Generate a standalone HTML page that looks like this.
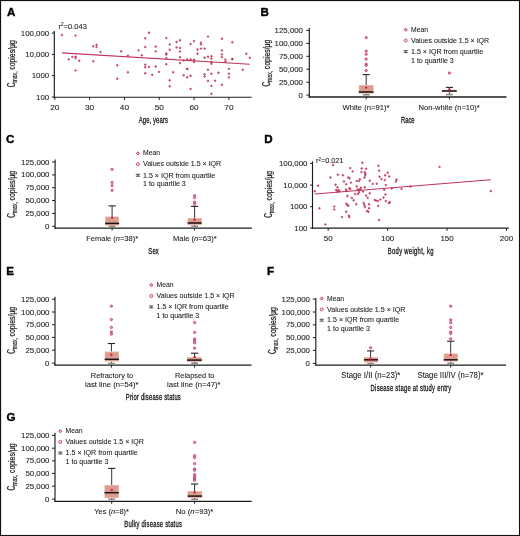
<!DOCTYPE html>
<html><head><meta charset="utf-8"><style>
html,body{margin:0;padding:0;background:#fff;width:520px;height:536px;overflow:hidden}
svg{display:block;font-family:"Liberation Sans", sans-serif;will-change:transform}
text{stroke:#1a1a1a;stroke-width:0.08px;paint-order:stroke}
.t{stroke:#111;stroke-width:0.3px}
.pl{stroke:#000;stroke-width:0.4px}
.yl text{stroke-width:0.22px}
</style></head><body>
<svg width="520" height="536" viewBox="0 0 520 536">
<rect x="0.55" y="0.55" width="518.95" height="534.95" fill="#fff" stroke="#111" stroke-width="1.1"/>
<text class="pl" x="7.0" y="16.0" font-size="11.6" font-weight="bold" fill="#000">A</text>
<text class="pl" x="260.4" y="16.0" font-size="11.6" font-weight="bold" fill="#000">B</text>
<text class="pl" x="6.1" y="143.3" font-size="11.6" font-weight="bold" fill="#000">C</text>
<text class="pl" x="264.2" y="143.0" font-size="11.6" font-weight="bold" fill="#000">D</text>
<text class="pl" x="6.2" y="275.0" font-size="11.6" font-weight="bold" fill="#000">E</text>
<text class="pl" x="267.1" y="275.0" font-size="11.6" font-weight="bold" fill="#000">F</text>
<text class="pl" x="6.5" y="420.8" font-size="11.6" font-weight="bold" fill="#000">G</text>
<line x1="54.3" y1="31.1" x2="54.3" y2="97.8" stroke="#1c1c1c" stroke-width="1.15"/>
<line x1="53.699999999999996" y1="97.2" x2="251.7" y2="97.2" stroke="#1c1c1c" stroke-width="1.15"/>
<line x1="51.9" y1="33.1" x2="54.3" y2="33.1" stroke="#1c1c1c" stroke-width="1.0"/>
<line x1="51.9" y1="54.4" x2="54.3" y2="54.4" stroke="#1c1c1c" stroke-width="1.0"/>
<line x1="51.9" y1="75.6" x2="54.3" y2="75.6" stroke="#1c1c1c" stroke-width="1.0"/>
<line x1="51.9" y1="97.1" x2="54.3" y2="97.1" stroke="#1c1c1c" stroke-width="1.0"/>
<line x1="54.8" y1="97.2" x2="54.8" y2="99.9" stroke="#1c1c1c" stroke-width="1.0"/>
<line x1="89.62" y1="97.2" x2="89.62" y2="99.9" stroke="#1c1c1c" stroke-width="1.0"/>
<line x1="124.44" y1="97.2" x2="124.44" y2="99.9" stroke="#1c1c1c" stroke-width="1.0"/>
<line x1="159.26" y1="97.2" x2="159.26" y2="99.9" stroke="#1c1c1c" stroke-width="1.0"/>
<line x1="194.07999999999998" y1="97.2" x2="194.07999999999998" y2="99.9" stroke="#1c1c1c" stroke-width="1.0"/>
<line x1="228.89999999999998" y1="97.2" x2="228.89999999999998" y2="99.9" stroke="#1c1c1c" stroke-width="1.0"/>
<text x="49.2" y="35.6" font-size="7.2" text-anchor="end" font-weight="normal" fill="#1a1a1a" textLength="28.42" lengthAdjust="spacingAndGlyphs" >100,000</text>
<text x="49.2" y="56.9" font-size="7.2" text-anchor="end" font-weight="normal" fill="#1a1a1a" textLength="24.05" lengthAdjust="spacingAndGlyphs" >10,000</text>
<text x="49.2" y="78.1" font-size="7.2" text-anchor="end" font-weight="normal" fill="#1a1a1a" textLength="17.49" lengthAdjust="spacingAndGlyphs" >1000</text>
<text x="49.2" y="99.6" font-size="7.2" text-anchor="end" font-weight="normal" fill="#1a1a1a" textLength="13.12" lengthAdjust="spacingAndGlyphs" >100</text>
<text x="54.8" y="109.5" font-size="7.9" text-anchor="middle" font-weight="normal" fill="#1a1a1a" textLength="9.23" lengthAdjust="spacingAndGlyphs" >20</text>
<text x="89.62" y="109.5" font-size="7.9" text-anchor="middle" font-weight="normal" fill="#1a1a1a" textLength="9.23" lengthAdjust="spacingAndGlyphs" >30</text>
<text x="124.44" y="109.5" font-size="7.9" text-anchor="middle" font-weight="normal" fill="#1a1a1a" textLength="9.23" lengthAdjust="spacingAndGlyphs" >40</text>
<text x="159.26" y="109.5" font-size="7.9" text-anchor="middle" font-weight="normal" fill="#1a1a1a" textLength="9.23" lengthAdjust="spacingAndGlyphs" >50</text>
<text x="194.07999999999998" y="109.5" font-size="7.9" text-anchor="middle" font-weight="normal" fill="#1a1a1a" textLength="9.23" lengthAdjust="spacingAndGlyphs" >60</text>
<text x="228.89999999999998" y="109.5" font-size="7.9" text-anchor="middle" font-weight="normal" fill="#1a1a1a" textLength="9.23" lengthAdjust="spacingAndGlyphs" >70</text>
<text class="t" transform="translate(138.7,122.5) scale(0.6,1)" x="0" y="0" font-size="9.8" letter-spacing="0.203" fill="#111">Age, years</text>
<text x="58.5" y="28.5" font-size="7.3" text-anchor="start" font-weight="normal" fill="#1a1a1a" textLength="28.4" lengthAdjust="spacingAndGlyphs" >r<tspan font-size="4.5" dy="-2.6">2</tspan><tspan dy="2.6">=0.043</tspan></text>
<g class="yl" transform="translate(14.9,87.2) rotate(-90)" fill="#1a1a1a"><text x="0" y="0" font-size="10.2" textLength="4.6" lengthAdjust="spacingAndGlyphs">C</text><text x="4.6" y="2.0" font-size="7.0" textLength="11.2" lengthAdjust="spacingAndGlyphs">max,</text><text x="17.4" y="0" font-size="8.7" textLength="29.6" lengthAdjust="spacingAndGlyphs">copies/μg</text></g>
<line x1="61.9" y1="52.9" x2="249.8" y2="64.3" stroke="#bf3459" stroke-width="1.1"/>
<path d="M60.449999999999996 35L61.9 33.55L63.35 35L61.9 36.45Z" fill="#bb2d55" fill-opacity="0.85"/>
<path d="M74.14999999999999 35.6L75.6 34.15L77.05 35.6L75.6 37.050000000000004Z" fill="#bb2d55" fill-opacity="0.85"/>
<path d="M91.85 46.2L93.3 44.75L94.75 46.2L93.3 47.650000000000006Z" fill="#bb2d55" fill-opacity="0.85"/>
<path d="M95.05 44.8L96.5 43.349999999999994L97.95 44.8L96.5 46.25Z" fill="#bb2d55" fill-opacity="0.85"/>
<path d="M95.05 47.1L96.5 45.65L97.95 47.1L96.5 48.550000000000004Z" fill="#bb2d55" fill-opacity="0.85"/>
<path d="M98.95 52.1L100.4 50.65L101.85000000000001 52.1L100.4 53.550000000000004Z" fill="#bb2d55" fill-opacity="0.85"/>
<path d="M67.25 59.4L68.7 57.949999999999996L70.15 59.4L68.7 60.85Z" fill="#bb2d55" fill-opacity="0.85"/>
<path d="M70.85 56.9L72.3 55.449999999999996L73.75 56.9L72.3 58.35Z" fill="#bb2d55" fill-opacity="0.85"/>
<path d="M74.14999999999999 56.7L75.6 55.25L77.05 56.7L75.6 58.150000000000006Z" fill="#bb2d55" fill-opacity="0.85"/>
<path d="M74.14999999999999 58.1L75.6 56.65L77.05 58.1L75.6 59.550000000000004Z" fill="#bb2d55" fill-opacity="0.85"/>
<path d="M77.75 60.8L79.2 59.349999999999994L80.65 60.8L79.2 62.25Z" fill="#bb2d55" fill-opacity="0.85"/>
<path d="M91.85 61.3L93.3 59.849999999999994L94.75 61.3L93.3 62.75Z" fill="#bb2d55" fill-opacity="0.85"/>
<path d="M74.14999999999999 70.4L75.6 68.95L77.05 70.4L75.6 71.85000000000001Z" fill="#bb2d55" fill-opacity="0.85"/>
<path d="M115.85 65.2L117.3 63.75L118.75 65.2L117.3 66.65Z" fill="#bb2d55" fill-opacity="0.85"/>
<path d="M119.75 51.3L121.2 49.849999999999994L122.65 51.3L121.2 52.75Z" fill="#bb2d55" fill-opacity="0.85"/>
<path d="M126.45 55.8L127.9 54.349999999999994L129.35 55.8L127.9 57.25Z" fill="#bb2d55" fill-opacity="0.85"/>
<path d="M126.45 72.3L127.9 70.85L129.35 72.3L127.9 73.75Z" fill="#bb2d55" fill-opacity="0.85"/>
<path d="M115.85 78.7L117.3 77.25L118.75 78.7L117.3 80.15Z" fill="#bb2d55" fill-opacity="0.85"/>
<path d="M137.05 50.4L138.5 48.949999999999996L139.95 50.4L138.5 51.85Z" fill="#bb2d55" fill-opacity="0.85"/>
<path d="M140.45000000000002 55.2L141.9 53.75L143.35 55.2L141.9 56.650000000000006Z" fill="#bb2d55" fill-opacity="0.85"/>
<path d="M143.75 38.3L145.2 36.849999999999994L146.64999999999998 38.3L145.2 39.75Z" fill="#bb2d55" fill-opacity="0.85"/>
<path d="M143.75 47.1L145.2 45.65L146.64999999999998 47.1L145.2 48.550000000000004Z" fill="#bb2d55" fill-opacity="0.85"/>
<path d="M143.75 64.8L145.2 63.349999999999994L146.64999999999998 64.8L145.2 66.25Z" fill="#bb2d55" fill-opacity="0.85"/>
<path d="M143.75 67.3L145.2 65.85L146.64999999999998 67.3L145.2 68.75Z" fill="#bb2d55" fill-opacity="0.85"/>
<path d="M147.55 66.9L149 65.45L150.45 66.9L149 68.35000000000001Z" fill="#bb2d55" fill-opacity="0.85"/>
<path d="M143.75 73.3L145.2 71.85L146.64999999999998 73.3L145.2 74.75Z" fill="#bb2d55" fill-opacity="0.85"/>
<path d="M147.55 32.7L149 31.250000000000004L150.45 32.7L149 34.150000000000006Z" fill="#bb2d55" fill-opacity="0.85"/>
<path d="M150.75 74.7L152.2 73.25L153.64999999999998 74.7L152.2 76.15Z" fill="#bb2d55" fill-opacity="0.85"/>
<path d="M154.25 46.5L155.7 45.05L157.14999999999998 46.5L155.7 47.95Z" fill="#bb2d55" fill-opacity="0.85"/>
<path d="M154.25 51.4L155.7 49.949999999999996L157.14999999999998 51.4L155.7 52.85Z" fill="#bb2d55" fill-opacity="0.85"/>
<path d="M154.25 66.5L155.7 65.05L157.14999999999998 66.5L155.7 67.95Z" fill="#bb2d55" fill-opacity="0.85"/>
<path d="M157.65 71.9L159.1 70.45L160.54999999999998 71.9L159.1 73.35000000000001Z" fill="#bb2d55" fill-opacity="0.85"/>
<path d="M164.85000000000002 38.1L166.3 36.65L167.75 38.1L166.3 39.550000000000004Z" fill="#bb2d55" fill-opacity="0.85"/>
<path d="M164.85000000000002 53.4L166.3 51.949999999999996L167.75 53.4L166.3 54.85Z" fill="#bb2d55" fill-opacity="0.85"/>
<path d="M164.85000000000002 54.6L166.3 53.15L167.75 54.6L166.3 56.050000000000004Z" fill="#bb2d55" fill-opacity="0.85"/>
<path d="M164.85000000000002 58.1L166.3 56.65L167.75 58.1L166.3 59.550000000000004Z" fill="#bb2d55" fill-opacity="0.85"/>
<path d="M164.85000000000002 64.3L166.3 62.849999999999994L167.75 64.3L166.3 65.75Z" fill="#bb2d55" fill-opacity="0.85"/>
<path d="M168.25 44.4L169.7 42.949999999999996L171.14999999999998 44.4L169.7 45.85Z" fill="#bb2d55" fill-opacity="0.85"/>
<path d="M168.25 49.8L169.7 48.349999999999994L171.14999999999998 49.8L169.7 51.25Z" fill="#bb2d55" fill-opacity="0.85"/>
<path d="M168.25 80.2L169.7 78.75L171.14999999999998 80.2L169.7 81.65Z" fill="#bb2d55" fill-opacity="0.85"/>
<path d="M168.25 86.2L169.7 84.75L171.14999999999998 86.2L169.7 87.65Z" fill="#bb2d55" fill-opacity="0.85"/>
<path d="M171.65 72.2L173.1 70.75L174.54999999999998 72.2L173.1 73.65Z" fill="#bb2d55" fill-opacity="0.85"/>
<path d="M175.15 42L176.6 40.55L178.04999999999998 42L176.6 43.45Z" fill="#bb2d55" fill-opacity="0.85"/>
<path d="M175.15 47.4L176.6 45.949999999999996L178.04999999999998 47.4L176.6 48.85Z" fill="#bb2d55" fill-opacity="0.85"/>
<path d="M178.55 40.2L180 38.75L181.45 40.2L180 41.650000000000006Z" fill="#bb2d55" fill-opacity="0.85"/>
<path d="M178.55 48L180 46.55L181.45 48L180 49.45Z" fill="#bb2d55" fill-opacity="0.85"/>
<path d="M178.55 51.4L180 49.949999999999996L181.45 51.4L180 52.85Z" fill="#bb2d55" fill-opacity="0.85"/>
<path d="M178.55 57.2L180 55.75L181.45 57.2L180 58.650000000000006Z" fill="#bb2d55" fill-opacity="0.85"/>
<path d="M178.55 63L180 61.55L181.45 63L180 64.45Z" fill="#bb2d55" fill-opacity="0.85"/>
<path d="M182.15 60.4L183.6 58.949999999999996L185.04999999999998 60.4L183.6 61.85Z" fill="#bb2d55" fill-opacity="0.85"/>
<path d="M182.15 75.3L183.6 73.85L185.04999999999998 75.3L183.6 76.75Z" fill="#bb2d55" fill-opacity="0.85"/>
<path d="M185.75 59.5L187.2 58.05L188.64999999999998 59.5L187.2 60.95Z" fill="#bb2d55" fill-opacity="0.85"/>
<path d="M185.75 77.2L187.2 75.75L188.64999999999998 77.2L187.2 78.65Z" fill="#bb2d55" fill-opacity="0.85"/>
<path d="M189.15 44.1L190.6 42.65L192.04999999999998 44.1L190.6 45.550000000000004Z" fill="#bb2d55" fill-opacity="0.85"/>
<path d="M189.15 59.5L190.6 58.05L192.04999999999998 59.5L190.6 60.95Z" fill="#bb2d55" fill-opacity="0.85"/>
<path d="M189.15 75.7L190.6 74.25L192.04999999999998 75.7L190.6 77.15Z" fill="#bb2d55" fill-opacity="0.85"/>
<path d="M189.15 88.9L190.6 87.45L192.04999999999998 88.9L190.6 90.35000000000001Z" fill="#bb2d55" fill-opacity="0.85"/>
<path d="M192.55 41.1L194 39.65L195.45 41.1L194 42.550000000000004Z" fill="#bb2d55" fill-opacity="0.85"/>
<path d="M192.55 59.8L194 58.349999999999994L195.45 59.8L194 61.25Z" fill="#bb2d55" fill-opacity="0.85"/>
<path d="M192.55 62L194 60.55L195.45 62L194 63.45Z" fill="#bb2d55" fill-opacity="0.85"/>
<path d="M196.05 49.5L197.5 48.05L198.95 49.5L197.5 50.95Z" fill="#bb2d55" fill-opacity="0.85"/>
<path d="M196.05 53.8L197.5 52.349999999999994L198.95 53.8L197.5 55.25Z" fill="#bb2d55" fill-opacity="0.85"/>
<path d="M199.55 42.6L201 41.15L202.45 42.6L201 44.050000000000004Z" fill="#bb2d55" fill-opacity="0.85"/>
<path d="M199.55 44.4L201 42.949999999999996L202.45 44.4L201 45.85Z" fill="#bb2d55" fill-opacity="0.85"/>
<path d="M199.55 48.6L201 47.15L202.45 48.6L201 50.050000000000004Z" fill="#bb2d55" fill-opacity="0.85"/>
<path d="M203.15 48.6L204.6 47.15L206.04999999999998 48.6L204.6 50.050000000000004Z" fill="#bb2d55" fill-opacity="0.85"/>
<path d="M203.15 57.8L204.6 56.349999999999994L206.04999999999998 57.8L204.6 59.25Z" fill="#bb2d55" fill-opacity="0.85"/>
<path d="M203.15 74.3L204.6 72.85L206.04999999999998 74.3L204.6 75.75Z" fill="#bb2d55" fill-opacity="0.85"/>
<path d="M203.15 76.5L204.6 75.05L206.04999999999998 76.5L204.6 77.95Z" fill="#bb2d55" fill-opacity="0.85"/>
<path d="M206.55 36.6L208 35.15L209.45 36.6L208 38.050000000000004Z" fill="#bb2d55" fill-opacity="0.85"/>
<path d="M206.55 56.8L208 55.349999999999994L209.45 56.8L208 58.25Z" fill="#bb2d55" fill-opacity="0.85"/>
<path d="M206.55 69.8L208 68.35L209.45 69.8L208 71.25Z" fill="#bb2d55" fill-opacity="0.85"/>
<path d="M206.55 81L208 79.55L209.45 81L208 82.45Z" fill="#bb2d55" fill-opacity="0.85"/>
<path d="M209.95000000000002 56.3L211.4 54.849999999999994L212.85 56.3L211.4 57.75Z" fill="#bb2d55" fill-opacity="0.85"/>
<path d="M209.95000000000002 58.6L211.4 57.15L212.85 58.6L211.4 60.050000000000004Z" fill="#bb2d55" fill-opacity="0.85"/>
<path d="M209.95000000000002 61.9L211.4 60.449999999999996L212.85 61.9L211.4 63.35Z" fill="#bb2d55" fill-opacity="0.85"/>
<path d="M209.95000000000002 63.8L211.4 62.349999999999994L212.85 63.8L211.4 65.25Z" fill="#bb2d55" fill-opacity="0.85"/>
<path d="M209.95000000000002 73.7L211.4 72.25L212.85 73.7L211.4 75.15Z" fill="#bb2d55" fill-opacity="0.85"/>
<path d="M209.95000000000002 85.9L211.4 84.45L212.85 85.9L211.4 87.35000000000001Z" fill="#bb2d55" fill-opacity="0.85"/>
<path d="M209.95000000000002 93.7L211.4 92.25L212.85 93.7L211.4 95.15Z" fill="#bb2d55" fill-opacity="0.85"/>
<path d="M213.55 80.7L215 79.25L216.45 80.7L215 82.15Z" fill="#bb2d55" fill-opacity="0.85"/>
<path d="M216.95000000000002 72.8L218.4 71.35L219.85 72.8L218.4 74.25Z" fill="#bb2d55" fill-opacity="0.85"/>
<path d="M220.45000000000002 38.7L221.9 37.25L223.35 38.7L221.9 40.150000000000006Z" fill="#bb2d55" fill-opacity="0.85"/>
<path d="M220.45000000000002 50.4L221.9 48.949999999999996L223.35 50.4L221.9 51.85Z" fill="#bb2d55" fill-opacity="0.85"/>
<path d="M220.45000000000002 54.4L221.9 52.949999999999996L223.35 54.4L221.9 55.85Z" fill="#bb2d55" fill-opacity="0.85"/>
<path d="M220.45000000000002 57.1L221.9 55.65L223.35 57.1L221.9 58.550000000000004Z" fill="#bb2d55" fill-opacity="0.85"/>
<path d="M220.45000000000002 84.7L221.9 83.25L223.35 84.7L221.9 86.15Z" fill="#bb2d55" fill-opacity="0.85"/>
<path d="M223.95000000000002 59.6L225.4 58.15L226.85 59.6L225.4 61.050000000000004Z" fill="#bb2d55" fill-opacity="0.85"/>
<path d="M223.95000000000002 61.6L225.4 60.15L226.85 61.6L225.4 63.050000000000004Z" fill="#bb2d55" fill-opacity="0.85"/>
<path d="M227.45000000000002 68.9L228.9 67.45L230.35 68.9L228.9 70.35000000000001Z" fill="#bb2d55" fill-opacity="0.85"/>
<path d="M227.45000000000002 73.7L228.9 72.25L230.35 73.7L228.9 75.15Z" fill="#bb2d55" fill-opacity="0.85"/>
<path d="M227.45000000000002 77.4L228.9 75.95L230.35 77.4L228.9 78.85000000000001Z" fill="#bb2d55" fill-opacity="0.85"/>
<path d="M230.85000000000002 42.3L232.3 40.849999999999994L233.75 42.3L232.3 43.75Z" fill="#bb2d55" fill-opacity="0.85"/>
<path d="M241.35000000000002 69.8L242.8 68.35L244.25 69.8L242.8 71.25Z" fill="#bb2d55" fill-opacity="0.85"/>
<path d="M244.85000000000002 53.7L246.3 52.25L247.75 53.7L246.3 55.150000000000006Z" fill="#bb2d55" fill-opacity="0.85"/>
<path d="M248.35000000000002 57.8L249.8 56.349999999999994L251.25 57.8L249.8 59.25Z" fill="#bb2d55" fill-opacity="0.85"/>
<path d="M185.6 69L187.2 67.4L188.79999999999998 69L187.2 70.6Z" fill="#9a1030" fill-opacity="0.85"/>
<path d="M230.70000000000002 59L232.3 57.4L233.9 59L232.3 60.6Z" fill="#9a1030" fill-opacity="0.85"/>
<line x1="312.5" y1="161.4" x2="312.5" y2="228.7" stroke="#1c1c1c" stroke-width="1.15"/>
<line x1="311.9" y1="228.1" x2="508.8" y2="228.1" stroke="#1c1c1c" stroke-width="1.15"/>
<line x1="310.1" y1="163.4" x2="312.5" y2="163.4" stroke="#1c1c1c" stroke-width="1.0"/>
<line x1="310.1" y1="185.1" x2="312.5" y2="185.1" stroke="#1c1c1c" stroke-width="1.0"/>
<line x1="310.1" y1="206.7" x2="312.5" y2="206.7" stroke="#1c1c1c" stroke-width="1.0"/>
<line x1="310.1" y1="228.0" x2="312.5" y2="228.0" stroke="#1c1c1c" stroke-width="1.0"/>
<line x1="328.2" y1="228.1" x2="328.2" y2="230.79999999999998" stroke="#1c1c1c" stroke-width="1.0"/>
<line x1="387.63" y1="228.1" x2="387.63" y2="230.79999999999998" stroke="#1c1c1c" stroke-width="1.0"/>
<line x1="447.06" y1="228.1" x2="447.06" y2="230.79999999999998" stroke="#1c1c1c" stroke-width="1.0"/>
<line x1="506.49" y1="228.1" x2="506.49" y2="230.79999999999998" stroke="#1c1c1c" stroke-width="1.0"/>
<text x="307.4" y="165.9" font-size="7.2" text-anchor="end" font-weight="normal" fill="#1a1a1a" textLength="28.42" lengthAdjust="spacingAndGlyphs" >100,000</text>
<text x="307.4" y="187.6" font-size="7.2" text-anchor="end" font-weight="normal" fill="#1a1a1a" textLength="24.05" lengthAdjust="spacingAndGlyphs" >10,000</text>
<text x="307.4" y="209.2" font-size="7.2" text-anchor="end" font-weight="normal" fill="#1a1a1a" textLength="17.49" lengthAdjust="spacingAndGlyphs" >1000</text>
<text x="307.4" y="230.5" font-size="7.2" text-anchor="end" font-weight="normal" fill="#1a1a1a" textLength="13.12" lengthAdjust="spacingAndGlyphs" >100</text>
<text x="328.2" y="240.9" font-size="7.6" text-anchor="middle" font-weight="normal" fill="#1a1a1a" textLength="8.88" lengthAdjust="spacingAndGlyphs" >50</text>
<text x="387.63" y="240.9" font-size="7.6" text-anchor="middle" font-weight="normal" fill="#1a1a1a" textLength="13.31" lengthAdjust="spacingAndGlyphs" >100</text>
<text x="447.06" y="240.9" font-size="7.6" text-anchor="middle" font-weight="normal" fill="#1a1a1a" textLength="13.31" lengthAdjust="spacingAndGlyphs" >150</text>
<text x="506.49" y="240.9" font-size="7.6" text-anchor="middle" font-weight="normal" fill="#1a1a1a" textLength="13.31" lengthAdjust="spacingAndGlyphs" >200</text>
<text class="t" transform="translate(387.8,253.9) scale(0.6,1)" x="0" y="0" font-size="9.8" letter-spacing="0.499" fill="#111">Body weight, kg</text>
<text x="316.0" y="163.3" font-size="7.3" text-anchor="start" font-weight="normal" fill="#1a1a1a" textLength="27.4" lengthAdjust="spacingAndGlyphs" >r<tspan font-size="4.5" dy="-2.6">2</tspan><tspan dy="2.6">=0.021</tspan></text>
<g class="yl" transform="translate(272.2,217.8) rotate(-90)" fill="#1a1a1a"><text x="0" y="0" font-size="10.2" textLength="4.6" lengthAdjust="spacingAndGlyphs">C</text><text x="4.6" y="2.0" font-size="7.0" textLength="11.2" lengthAdjust="spacingAndGlyphs">max,</text><text x="17.4" y="0" font-size="8.7" textLength="29.6" lengthAdjust="spacingAndGlyphs">copies/μg</text></g>
<line x1="314.8" y1="194.0" x2="490.8" y2="179.8" stroke="#bf3459" stroke-width="1.1"/>
<path d="M331.65000000000003 165L333.1 163.55L334.55 165L333.1 166.45Z" fill="#bb2d55" fill-opacity="0.85"/>
<path d="M313.35 191.3L314.8 189.85000000000002L316.25 191.3L314.8 192.75Z" fill="#bb2d55" fill-opacity="0.85"/>
<path d="M316.65000000000003 185.7L318.1 184.25L319.55 185.7L318.1 187.14999999999998Z" fill="#bb2d55" fill-opacity="0.85"/>
<path d="M317.95 208.3L319.4 206.85000000000002L320.84999999999997 208.3L319.4 209.75Z" fill="#bb2d55" fill-opacity="0.85"/>
<path d="M323.95 224.4L325.4 222.95000000000002L326.84999999999997 224.4L325.4 225.85Z" fill="#bb2d55" fill-opacity="0.85"/>
<path d="M328.95 177.5L330.4 176.05L331.84999999999997 177.5L330.4 178.95Z" fill="#bb2d55" fill-opacity="0.85"/>
<path d="M332.75 206.6L334.2 205.15L335.65 206.6L334.2 208.04999999999998Z" fill="#bb2d55" fill-opacity="0.85"/>
<path d="M332.75 209.4L334.2 207.95000000000002L335.65 209.4L334.2 210.85Z" fill="#bb2d55" fill-opacity="0.85"/>
<path d="M334.05 184.8L335.5 183.35000000000002L336.95 184.8L335.5 186.25Z" fill="#bb2d55" fill-opacity="0.85"/>
<path d="M336.45 174.8L337.9 173.35000000000002L339.34999999999997 174.8L337.9 176.25Z" fill="#bb2d55" fill-opacity="0.85"/>
<path d="M336.05 187.3L337.5 185.85000000000002L338.95 187.3L337.5 188.75Z" fill="#bb2d55" fill-opacity="0.85"/>
<path d="M334.75 190L336.2 188.55L337.65 190L336.2 191.45Z" fill="#bb2d55" fill-opacity="0.85"/>
<path d="M336.75 190.2L338.2 188.75L339.65 190.2L338.2 191.64999999999998Z" fill="#bb2d55" fill-opacity="0.85"/>
<path d="M338.05 190.9L339.5 189.45000000000002L340.95 190.9L339.5 192.35Z" fill="#bb2d55" fill-opacity="0.85"/>
<path d="M336.05 191.8L337.5 190.35000000000002L338.95 191.8L337.5 193.25Z" fill="#bb2d55" fill-opacity="0.85"/>
<path d="M340.55 217.1L342 215.65L343.45 217.1L342 218.54999999999998Z" fill="#bb2d55" fill-opacity="0.85"/>
<path d="M341.45 175.2L342.9 173.75L344.34999999999997 175.2L342.9 176.64999999999998Z" fill="#bb2d55" fill-opacity="0.85"/>
<path d="M342.55 181.5L344 180.05L345.45 181.5L344 182.95Z" fill="#bb2d55" fill-opacity="0.85"/>
<path d="M344.75 184.2L346.2 182.75L347.65 184.2L346.2 185.64999999999998Z" fill="#bb2d55" fill-opacity="0.85"/>
<path d="M344.55 189.5L346 188.05L347.45 189.5L346 190.95Z" fill="#bb2d55" fill-opacity="0.85"/>
<path d="M345.45 190.9L346.9 189.45000000000002L348.34999999999997 190.9L346.9 192.35Z" fill="#bb2d55" fill-opacity="0.85"/>
<path d="M344.75 211.7L346.2 210.25L347.65 211.7L346.2 213.14999999999998Z" fill="#bb2d55" fill-opacity="0.85"/>
<path d="M344.75 203.6L346.2 202.15L347.65 203.6L346.2 205.04999999999998Z" fill="#bb2d55" fill-opacity="0.85"/>
<path d="M345.85 205L347.3 203.55L348.75 205L347.3 206.45Z" fill="#bb2d55" fill-opacity="0.85"/>
<path d="M346.85 205.7L348.3 204.25L349.75 205.7L348.3 207.14999999999998Z" fill="#bb2d55" fill-opacity="0.85"/>
<path d="M345.85 196L347.3 194.55L348.75 196L347.3 197.45Z" fill="#bb2d55" fill-opacity="0.85"/>
<path d="M346.85 177.5L348.3 176.05L349.75 177.5L348.3 178.95Z" fill="#bb2d55" fill-opacity="0.85"/>
<path d="M348.15000000000003 178.4L349.6 176.95000000000002L351.05 178.4L349.6 179.85Z" fill="#bb2d55" fill-opacity="0.85"/>
<path d="M347.45 215.7L348.9 214.25L350.34999999999997 215.7L348.9 217.14999999999998Z" fill="#bb2d55" fill-opacity="0.85"/>
<path d="M347.85 217.1L349.3 215.65L350.75 217.1L349.3 218.54999999999998Z" fill="#bb2d55" fill-opacity="0.85"/>
<path d="M348.85 168.1L350.3 166.65L351.75 168.1L350.3 169.54999999999998Z" fill="#bb2d55" fill-opacity="0.85"/>
<path d="M351.25 171.4L352.7 169.95000000000002L354.15 171.4L352.7 172.85Z" fill="#bb2d55" fill-opacity="0.85"/>
<path d="M349.45 182.6L350.9 181.15L352.34999999999997 182.6L350.9 184.04999999999998Z" fill="#bb2d55" fill-opacity="0.85"/>
<path d="M347.85 188.2L349.3 186.75L350.75 188.2L349.3 189.64999999999998Z" fill="#bb2d55" fill-opacity="0.85"/>
<path d="M348.85 189.1L350.3 187.65L351.75 189.1L350.3 190.54999999999998Z" fill="#bb2d55" fill-opacity="0.85"/>
<path d="M350.45 198L351.9 196.55L353.34999999999997 198L351.9 199.45Z" fill="#bb2d55" fill-opacity="0.85"/>
<path d="M352.15000000000003 200.3L353.6 198.85000000000002L355.05 200.3L353.6 201.75Z" fill="#bb2d55" fill-opacity="0.85"/>
<path d="M354.85 204.3L356.3 202.85000000000002L357.75 204.3L356.3 205.75Z" fill="#bb2d55" fill-opacity="0.85"/>
<path d="M355.25 181.1L356.7 179.65L358.15 181.1L356.7 182.54999999999998Z" fill="#bb2d55" fill-opacity="0.85"/>
<path d="M355.25 186.2L356.7 184.75L358.15 186.2L356.7 187.64999999999998Z" fill="#bb2d55" fill-opacity="0.85"/>
<path d="M353.55 194L355 192.55L356.45 194L355 195.45Z" fill="#bb2d55" fill-opacity="0.85"/>
<path d="M356.25 189.5L357.7 188.05L359.15 189.5L357.7 190.95Z" fill="#bb2d55" fill-opacity="0.85"/>
<path d="M357.95 190L359.4 188.55L360.84999999999997 190L359.4 191.45Z" fill="#bb2d55" fill-opacity="0.85"/>
<path d="M359.55 187.8L361 186.35000000000002L362.45 187.8L361 189.25Z" fill="#bb2d55" fill-opacity="0.85"/>
<path d="M358.85 189.1L360.3 187.65L361.75 189.1L360.3 190.54999999999998Z" fill="#bb2d55" fill-opacity="0.85"/>
<path d="M356.55 194L358 192.55L359.45 194L358 195.45Z" fill="#bb2d55" fill-opacity="0.85"/>
<path d="M357.55 192.2L359 190.75L360.45 192.2L359 193.64999999999998Z" fill="#bb2d55" fill-opacity="0.85"/>
<path d="M358.45 179.2L359.9 177.75L361.34999999999997 179.2L359.9 180.64999999999998Z" fill="#bb2d55" fill-opacity="0.85"/>
<path d="M357.55 181.1L359 179.65L360.45 181.1L359 182.54999999999998Z" fill="#bb2d55" fill-opacity="0.85"/>
<path d="M360.85 162.7L362.3 161.25L363.75 162.7L362.3 164.14999999999998Z" fill="#bb2d55" fill-opacity="0.85"/>
<path d="M360.25 168.5L361.7 167.05L363.15 168.5L361.7 169.95Z" fill="#bb2d55" fill-opacity="0.85"/>
<path d="M359.95 172.1L361.4 170.65L362.84999999999997 172.1L361.4 173.54999999999998Z" fill="#bb2d55" fill-opacity="0.85"/>
<path d="M363.35 172.1L364.8 170.65L366.25 172.1L364.8 173.54999999999998Z" fill="#bb2d55" fill-opacity="0.85"/>
<path d="M363.85 173.8L365.3 172.35000000000002L366.75 173.8L365.3 175.25Z" fill="#bb2d55" fill-opacity="0.85"/>
<path d="M363.85 175.2L365.3 173.75L366.75 175.2L365.3 176.64999999999998Z" fill="#bb2d55" fill-opacity="0.85"/>
<path d="M362.95 177.5L364.4 176.05L365.84999999999997 177.5L364.4 178.95Z" fill="#bb2d55" fill-opacity="0.85"/>
<path d="M363.35 187.3L364.8 185.85000000000002L366.25 187.3L364.8 188.75Z" fill="#bb2d55" fill-opacity="0.85"/>
<path d="M361.55 191.6L363 190.15L364.45 191.6L363 193.04999999999998Z" fill="#bb2d55" fill-opacity="0.85"/>
<path d="M362.25 203L363.7 201.55L365.15 203L363.7 204.45Z" fill="#bb2d55" fill-opacity="0.85"/>
<path d="M362.95 205L364.4 203.55L365.84999999999997 205L364.4 206.45Z" fill="#bb2d55" fill-opacity="0.85"/>
<path d="M363.55 207L365 205.55L366.45 207L365 208.45Z" fill="#bb2d55" fill-opacity="0.85"/>
<path d="M365.55 211L367 209.55L368.45 211L367 212.45Z" fill="#bb2d55" fill-opacity="0.85"/>
<path d="M366.95 211.7L368.4 210.25L369.84999999999997 211.7L368.4 213.14999999999998Z" fill="#bb2d55" fill-opacity="0.85"/>
<path d="M364.65000000000003 195.6L366.1 194.15L367.55 195.6L366.1 197.04999999999998Z" fill="#bb2d55" fill-opacity="0.85"/>
<path d="M368.25 193.2L369.7 191.75L371.15 193.2L369.7 194.64999999999998Z" fill="#bb2d55" fill-opacity="0.85"/>
<path d="M367.55 204.3L369 202.85000000000002L370.45 204.3L369 205.75Z" fill="#bb2d55" fill-opacity="0.85"/>
<path d="M367.55 208.3L369 206.85000000000002L370.45 208.3L369 209.75Z" fill="#bb2d55" fill-opacity="0.85"/>
<path d="M364.65000000000003 168.7L366.1 167.25L367.55 168.7L366.1 170.14999999999998Z" fill="#bb2d55" fill-opacity="0.85"/>
<path d="M368.25 180.8L369.7 179.35000000000002L371.15 180.8L369.7 182.25Z" fill="#bb2d55" fill-opacity="0.85"/>
<path d="M366.25 197.9L367.7 196.45000000000002L369.15 197.9L367.7 199.35Z" fill="#bb2d55" fill-opacity="0.85"/>
<path d="M371.25 183.9L372.7 182.45000000000002L374.15 183.9L372.7 185.35Z" fill="#bb2d55" fill-opacity="0.85"/>
<path d="M375.35 183.8L376.8 182.35000000000002L378.25 183.8L376.8 185.25Z" fill="#bb2d55" fill-opacity="0.85"/>
<path d="M376.95 165.8L378.4 164.35000000000002L379.84999999999997 165.8L378.4 167.25Z" fill="#bb2d55" fill-opacity="0.85"/>
<path d="M377.65000000000003 170.8L379.1 169.35000000000002L380.55 170.8L379.1 172.25Z" fill="#bb2d55" fill-opacity="0.85"/>
<path d="M378.05 176.8L379.5 175.35000000000002L380.95 176.8L379.5 178.25Z" fill="#bb2d55" fill-opacity="0.85"/>
<path d="M379.95 179.1L381.4 177.65L382.84999999999997 179.1L381.4 180.54999999999998Z" fill="#bb2d55" fill-opacity="0.85"/>
<path d="M383.65000000000003 175.2L385.1 173.75L386.55 175.2L385.1 176.64999999999998Z" fill="#bb2d55" fill-opacity="0.85"/>
<path d="M386.35 172.8L387.8 171.35000000000002L389.25 172.8L387.8 174.25Z" fill="#bb2d55" fill-opacity="0.85"/>
<path d="M387.75 176.5L389.2 175.05L390.65 176.5L389.2 177.95Z" fill="#bb2d55" fill-opacity="0.85"/>
<path d="M383.45 180.1L384.9 178.65L386.34999999999997 180.1L384.9 181.54999999999998Z" fill="#bb2d55" fill-opacity="0.85"/>
<path d="M384.35 185.1L385.8 183.65L387.25 185.1L385.8 186.54999999999998Z" fill="#bb2d55" fill-opacity="0.85"/>
<path d="M395.05 179.5L396.5 178.05L397.95 179.5L396.5 180.95Z" fill="#bb2d55" fill-opacity="0.85"/>
<path d="M394.45 181.5L395.9 180.05L397.34999999999997 181.5L395.9 182.95Z" fill="#bb2d55" fill-opacity="0.85"/>
<path d="M382.75 189.8L384.2 188.35000000000002L385.65 189.8L384.2 191.25Z" fill="#bb2d55" fill-opacity="0.85"/>
<path d="M390.35 188.6L391.8 187.15L393.25 188.6L391.8 190.04999999999998Z" fill="#bb2d55" fill-opacity="0.85"/>
<path d="M400.05 188.9L401.5 187.45000000000002L402.95 188.9L401.5 190.35Z" fill="#bb2d55" fill-opacity="0.85"/>
<path d="M408.95 186.5L410.4 185.05L411.84999999999997 186.5L410.4 187.95Z" fill="#bb2d55" fill-opacity="0.85"/>
<path d="M383.95 194.5L385.4 193.05L386.84999999999997 194.5L385.4 195.95Z" fill="#bb2d55" fill-opacity="0.85"/>
<path d="M382.05 197.6L383.5 196.15L384.95 197.6L383.5 199.04999999999998Z" fill="#bb2d55" fill-opacity="0.85"/>
<path d="M378.95 199.6L380.4 198.15L381.84999999999997 199.6L380.4 201.04999999999998Z" fill="#bb2d55" fill-opacity="0.85"/>
<path d="M373.25 199.9L374.7 198.45000000000002L376.15 199.9L374.7 201.35Z" fill="#bb2d55" fill-opacity="0.85"/>
<path d="M374.55 200.6L376 199.15L377.45 200.6L376 202.04999999999998Z" fill="#bb2d55" fill-opacity="0.85"/>
<path d="M376.35 201L377.8 199.55L379.25 201L377.8 202.45Z" fill="#bb2d55" fill-opacity="0.85"/>
<path d="M384.35 201L385.8 199.55L387.25 201L385.8 202.45Z" fill="#bb2d55" fill-opacity="0.85"/>
<path d="M387.45 203L388.9 201.55L390.34999999999997 203L388.9 204.45Z" fill="#bb2d55" fill-opacity="0.85"/>
<path d="M388.35 202.3L389.8 200.85000000000002L391.25 202.3L389.8 203.75Z" fill="#bb2d55" fill-opacity="0.85"/>
<path d="M376.75 206L378.2 204.55L379.65 206L378.2 207.45Z" fill="#bb2d55" fill-opacity="0.85"/>
<path d="M377.65000000000003 220L379.1 218.55L380.55 220L379.1 221.45Z" fill="#bb2d55" fill-opacity="0.85"/>
<path d="M438.15000000000003 166.9L439.6 165.45000000000002L441.05 166.9L439.6 168.35Z" fill="#bb2d55" fill-opacity="0.85"/>
<path d="M489.35 191L490.8 189.55L492.25 191L490.8 192.45Z" fill="#bb2d55" fill-opacity="0.85"/>
<line x1="309.3" y1="27.9" x2="309.3" y2="97.6" stroke="#1c1c1c" stroke-width="1.15"/>
<line x1="308.7" y1="97.0" x2="506.5" y2="97.0" stroke="#1c1c1c" stroke-width="1.3"/>
<line x1="306.3" y1="30.4" x2="309.3" y2="30.4" stroke="#1c1c1c" stroke-width="1.0"/>
<text x="303.0" y="32.9" font-size="7.2" text-anchor="end" font-weight="normal" fill="#1a1a1a" textLength="28.42" lengthAdjust="spacingAndGlyphs" >125,000</text>
<line x1="306.3" y1="43.4" x2="309.3" y2="43.4" stroke="#1c1c1c" stroke-width="1.0"/>
<text x="303.0" y="45.9" font-size="7.2" text-anchor="end" font-weight="normal" fill="#1a1a1a" textLength="28.42" lengthAdjust="spacingAndGlyphs" >100,000</text>
<line x1="306.3" y1="56.3" x2="309.3" y2="56.3" stroke="#1c1c1c" stroke-width="1.0"/>
<text x="303.0" y="58.8" font-size="7.2" text-anchor="end" font-weight="normal" fill="#1a1a1a" textLength="24.05" lengthAdjust="spacingAndGlyphs" >75,000</text>
<line x1="306.3" y1="69.2" x2="309.3" y2="69.2" stroke="#1c1c1c" stroke-width="1.0"/>
<text x="303.0" y="71.7" font-size="7.2" text-anchor="end" font-weight="normal" fill="#1a1a1a" textLength="24.05" lengthAdjust="spacingAndGlyphs" >50,000</text>
<line x1="306.3" y1="82.2" x2="309.3" y2="82.2" stroke="#1c1c1c" stroke-width="1.0"/>
<text x="303.0" y="84.7" font-size="7.2" text-anchor="end" font-weight="normal" fill="#1a1a1a" textLength="24.05" lengthAdjust="spacingAndGlyphs" >25,000</text>
<line x1="306.3" y1="95.1" x2="309.3" y2="95.1" stroke="#1c1c1c" stroke-width="1.0"/>
<text x="303.0" y="97.6" font-size="7.2" text-anchor="end" font-weight="normal" fill="#1a1a1a" textLength="4.37" lengthAdjust="spacingAndGlyphs" >0</text>
<g class="yl" transform="translate(269.5,86.6) rotate(-90)" fill="#1a1a1a"><text x="0" y="0" font-size="10.2" textLength="4.6" lengthAdjust="spacingAndGlyphs">C</text><text x="4.6" y="2.0" font-size="7.0" textLength="11.2" lengthAdjust="spacingAndGlyphs">max,</text><text x="17.4" y="0" font-size="8.7" textLength="29.6" lengthAdjust="spacingAndGlyphs">copies/μg</text></g>
<path d="M404.15 29.70L405.70 28.15L407.25 29.70L405.70 31.25Z" fill="#f0c8d4" stroke="#bf2550" stroke-width="0.95"/>
<circle cx="405.7" cy="40.50" r="1.55" fill="#f4d4de" stroke="#cc4a70" stroke-width="0.9"/>
<path d="M403.60 50.65H407.80M403.60 52.55H407.80M405.70 50.65V52.55" stroke="#333" stroke-width="0.85" fill="none"/>
<text x="411.0" y="31.7" font-size="7.4" text-anchor="start" font-weight="normal" fill="#1a1a1a" textLength="17.0" lengthAdjust="spacingAndGlyphs" >Mean</text>
<text x="411.0" y="42.6" font-size="7.4" text-anchor="start" font-weight="normal" fill="#1a1a1a" textLength="78.2" lengthAdjust="spacingAndGlyphs" >Values outside 1.5 × IQR</text>
<text x="411.0" y="53.8" font-size="7.4" text-anchor="start" font-weight="normal" fill="#1a1a1a" textLength="72.1" lengthAdjust="spacingAndGlyphs" >1.5 × IQR from quartile</text>
<text x="411.0" y="62.6" font-size="7.4" text-anchor="start" font-weight="normal" fill="#1a1a1a" textLength="42.8" lengthAdjust="spacingAndGlyphs" >1 to quartile 3</text>
<line x1="366.2" y1="97.0" x2="366.2" y2="99.4" stroke="#1c1c1c" stroke-width="1.0"/>
<line x1="366.2" y1="74.6" x2="366.2" y2="85.0" stroke="#333" stroke-width="1.0"/>
<line x1="362.59999999999997" y1="74.6" x2="369.8" y2="74.6" stroke="#222" stroke-width="1.1"/>
<line x1="366.2" y1="93.5" x2="366.2" y2="94.6" stroke="#555" stroke-width="1.0"/>
<line x1="362.8" y1="94.8" x2="369.59999999999997" y2="94.8" stroke="#8a8a8a" stroke-width="1.6"/>
<rect x="359.20" y="85.40" width="13.90" height="7.70" fill="#dc9c8e" stroke="#e8ae9f" stroke-width="0.8"/>
<line x1="358.8" y1="92.0" x2="373.5" y2="92.0" stroke="#1e1212" stroke-width="1.5"/>
<circle cx="366.2" cy="87.6" r="1.2" fill="#c81f4b"/>
<circle cx="366.2" cy="37.6" r="1.15" fill="#e49aae" stroke="#b91c47" stroke-width="0.75" stroke-opacity="0.9"/>
<circle cx="366.2" cy="51.1" r="1.15" fill="#e49aae" stroke="#b91c47" stroke-width="0.75" stroke-opacity="0.9"/>
<circle cx="366.2" cy="54.3" r="1.15" fill="#e49aae" stroke="#b91c47" stroke-width="0.75" stroke-opacity="0.9"/>
<circle cx="366.2" cy="59.1" r="1.15" fill="#e49aae" stroke="#b91c47" stroke-width="0.75" stroke-opacity="0.9"/>
<circle cx="366.2" cy="64.2" r="1.15" fill="#e49aae" stroke="#b91c47" stroke-width="0.75" stroke-opacity="0.9"/>
<circle cx="366.2" cy="65.4" r="1.15" fill="#e49aae" stroke="#b91c47" stroke-width="0.75" stroke-opacity="0.9"/>
<circle cx="366.2" cy="70.5" r="1.15" fill="#e49aae" stroke="#b91c47" stroke-width="0.75" stroke-opacity="0.9"/>
<line x1="449.4" y1="97.0" x2="449.4" y2="99.4" stroke="#1c1c1c" stroke-width="1.0"/>
<line x1="449.4" y1="87.4" x2="449.4" y2="89.8" stroke="#333" stroke-width="1.0"/>
<line x1="445.79999999999995" y1="87.4" x2="453.0" y2="87.4" stroke="#222" stroke-width="1.1"/>
<line x1="449.4" y1="91.7" x2="449.4" y2="94.4" stroke="#555" stroke-width="1.0"/>
<line x1="446.0" y1="94.60000000000001" x2="452.79999999999995" y2="94.60000000000001" stroke="#8a8a8a" stroke-width="1.6"/>
<rect x="442.30" y="90.20" width="14.00" height="1.10" fill="#dc9c8e" stroke="#e8ae9f" stroke-width="0.8"/>
<line x1="441.9" y1="91.0" x2="456.7" y2="91.0" stroke="#1e1212" stroke-width="1.5"/>
<circle cx="449.4" cy="89.4" r="1.2" fill="#c81f4b"/>
<circle cx="449.4" cy="73.0" r="1.15" fill="#e49aae" stroke="#b91c47" stroke-width="0.75" stroke-opacity="0.9"/>
<text x="342.5" y="109.6" font-size="7.9" text-anchor="start" font-weight="normal" fill="#1a1a1a" textLength="47.1" lengthAdjust="spacingAndGlyphs" >White (n=91)*</text>
<text x="418.6" y="109.6" font-size="7.9" text-anchor="start" font-weight="normal" fill="#1a1a1a" textLength="61.1" lengthAdjust="spacingAndGlyphs" >Non-white (n=10)*</text>
<text class="t" transform="translate(401.0,122.8) scale(0.6,1)" x="0" y="0" font-size="9.8" letter-spacing="-0.070" fill="#111">Race</text>
<line x1="55.1" y1="159.5" x2="55.1" y2="228.7" stroke="#1c1c1c" stroke-width="1.15"/>
<line x1="54.5" y1="228.1" x2="251.8" y2="228.1" stroke="#1c1c1c" stroke-width="1.3"/>
<line x1="52.1" y1="162.0" x2="55.1" y2="162.0" stroke="#1c1c1c" stroke-width="1.0"/>
<text x="49.5" y="164.5" font-size="7.2" text-anchor="end" font-weight="normal" fill="#1a1a1a" textLength="28.42" lengthAdjust="spacingAndGlyphs" >125,000</text>
<line x1="52.1" y1="174.9" x2="55.1" y2="174.9" stroke="#1c1c1c" stroke-width="1.0"/>
<text x="49.5" y="177.4" font-size="7.2" text-anchor="end" font-weight="normal" fill="#1a1a1a" textLength="28.42" lengthAdjust="spacingAndGlyphs" >100,000</text>
<line x1="52.1" y1="187.7" x2="55.1" y2="187.7" stroke="#1c1c1c" stroke-width="1.0"/>
<text x="49.5" y="190.2" font-size="7.2" text-anchor="end" font-weight="normal" fill="#1a1a1a" textLength="24.05" lengthAdjust="spacingAndGlyphs" >75,000</text>
<line x1="52.1" y1="200.5" x2="55.1" y2="200.5" stroke="#1c1c1c" stroke-width="1.0"/>
<text x="49.5" y="203.0" font-size="7.2" text-anchor="end" font-weight="normal" fill="#1a1a1a" textLength="24.05" lengthAdjust="spacingAndGlyphs" >50,000</text>
<line x1="52.1" y1="213.4" x2="55.1" y2="213.4" stroke="#1c1c1c" stroke-width="1.0"/>
<text x="49.5" y="215.9" font-size="7.2" text-anchor="end" font-weight="normal" fill="#1a1a1a" textLength="24.05" lengthAdjust="spacingAndGlyphs" >25,000</text>
<line x1="52.1" y1="226.3" x2="55.1" y2="226.3" stroke="#1c1c1c" stroke-width="1.0"/>
<text x="49.5" y="228.8" font-size="7.2" text-anchor="end" font-weight="normal" fill="#1a1a1a" textLength="4.37" lengthAdjust="spacingAndGlyphs" >0</text>
<g class="yl" transform="translate(14.8,217.8) rotate(-90)" fill="#1a1a1a"><text x="0" y="0" font-size="10.2" textLength="4.6" lengthAdjust="spacingAndGlyphs">C</text><text x="4.6" y="2.0" font-size="7.0" textLength="11.2" lengthAdjust="spacingAndGlyphs">max,</text><text x="17.4" y="0" font-size="8.7" textLength="29.6" lengthAdjust="spacingAndGlyphs">copies/μg</text></g>
<path d="M136.35 153.40L137.90 151.85L139.45 153.40L137.90 154.95Z" fill="#f0c8d4" stroke="#bf2550" stroke-width="0.95"/>
<circle cx="137.9" cy="164.20" r="1.55" fill="#f4d4de" stroke="#cc4a70" stroke-width="0.9"/>
<path d="M135.80 174.35H140.00M135.80 176.25H140.00M137.90 174.35V176.25" stroke="#333" stroke-width="0.85" fill="none"/>
<text x="143.0" y="155.4" font-size="7.4" text-anchor="start" font-weight="normal" fill="#1a1a1a" textLength="17.0" lengthAdjust="spacingAndGlyphs" >Mean</text>
<text x="143.0" y="166.3" font-size="7.4" text-anchor="start" font-weight="normal" fill="#1a1a1a" textLength="78.2" lengthAdjust="spacingAndGlyphs" >Values outside 1.5 × IQR</text>
<text x="143.0" y="177.5" font-size="7.4" text-anchor="start" font-weight="normal" fill="#1a1a1a" textLength="72.1" lengthAdjust="spacingAndGlyphs" >1.5 × IQR from quartile</text>
<text x="143.0" y="186.3" font-size="7.4" text-anchor="start" font-weight="normal" fill="#1a1a1a" textLength="42.8" lengthAdjust="spacingAndGlyphs" >1 to quartile 3</text>
<line x1="112.1" y1="228.1" x2="112.1" y2="230.5" stroke="#1c1c1c" stroke-width="1.0"/>
<line x1="112.1" y1="205.9" x2="112.1" y2="216.6" stroke="#333" stroke-width="1.0"/>
<line x1="108.5" y1="205.9" x2="115.69999999999999" y2="205.9" stroke="#222" stroke-width="1.1"/>
<line x1="112.1" y1="225.5" x2="112.1" y2="226.0" stroke="#555" stroke-width="1.0"/>
<line x1="108.69999999999999" y1="226.2" x2="115.5" y2="226.2" stroke="#8a8a8a" stroke-width="1.6"/>
<rect x="105.50" y="217.00" width="13.20" height="8.10" fill="#dc9c8e" stroke="#e8ae9f" stroke-width="0.8"/>
<line x1="105.1" y1="223.4" x2="119.1" y2="223.4" stroke="#1e1212" stroke-width="1.5"/>
<circle cx="112.1" cy="217.6" r="1.2" fill="#c81f4b"/>
<circle cx="112.1" cy="169.4" r="1.15" fill="#e49aae" stroke="#b91c47" stroke-width="0.75" stroke-opacity="0.9"/>
<circle cx="112.1" cy="182.4" r="1.15" fill="#e49aae" stroke="#b91c47" stroke-width="0.75" stroke-opacity="0.9"/>
<circle cx="112.1" cy="185.6" r="1.15" fill="#e49aae" stroke="#b91c47" stroke-width="0.75" stroke-opacity="0.9"/>
<circle cx="112.1" cy="190.3" r="1.15" fill="#e49aae" stroke="#b91c47" stroke-width="0.75" stroke-opacity="0.9"/>
<line x1="194.6" y1="228.1" x2="194.6" y2="230.5" stroke="#1c1c1c" stroke-width="1.0"/>
<line x1="194.6" y1="206.4" x2="194.6" y2="218.2" stroke="#333" stroke-width="1.0"/>
<line x1="191.0" y1="206.4" x2="198.2" y2="206.4" stroke="#222" stroke-width="1.1"/>
<line x1="194.6" y1="224.9" x2="194.6" y2="226.1" stroke="#555" stroke-width="1.0"/>
<line x1="191.2" y1="226.29999999999998" x2="198.0" y2="226.29999999999998" stroke="#8a8a8a" stroke-width="1.6"/>
<rect x="188.00" y="218.60" width="13.30" height="5.90" fill="#dc9c8e" stroke="#e8ae9f" stroke-width="0.8"/>
<line x1="187.6" y1="223.0" x2="201.7" y2="223.0" stroke="#1e1212" stroke-width="1.5"/>
<circle cx="194.6" cy="219.8" r="1.2" fill="#c81f4b"/>
<circle cx="194.6" cy="195.6" r="1.15" fill="#e49aae" stroke="#b91c47" stroke-width="0.75" stroke-opacity="0.9"/>
<circle cx="194.6" cy="197.6" r="1.15" fill="#e49aae" stroke="#b91c47" stroke-width="0.75" stroke-opacity="0.9"/>
<circle cx="194.6" cy="202.1" r="1.15" fill="#e49aae" stroke="#b91c47" stroke-width="0.75" stroke-opacity="0.9"/>
<circle cx="194.6" cy="204.3" r="1.15" fill="#e49aae" stroke="#b91c47" stroke-width="0.75" stroke-opacity="0.9"/>
<text x="86.3" y="241.10000000000002" font-size="7.9" text-anchor="start" font-weight="normal" fill="#1a1a1a" textLength="51.8" lengthAdjust="spacingAndGlyphs" >Female (<tspan font-style="italic">n</tspan>=38)*</text>
<text x="173.0" y="241.10000000000002" font-size="7.9" text-anchor="start" font-weight="normal" fill="#1a1a1a" textLength="43.7" lengthAdjust="spacingAndGlyphs" >Male (<tspan font-style="italic">n</tspan>=63)*</text>
<text class="t" transform="translate(148.3,253.8) scale(0.6,1)" x="0" y="0" font-size="9.8" letter-spacing="0.307" fill="#111">Sex</text>
<line x1="55.0" y1="296.8" x2="55.0" y2="365.8" stroke="#1c1c1c" stroke-width="1.15"/>
<line x1="54.4" y1="365.2" x2="251.5" y2="365.2" stroke="#1c1c1c" stroke-width="1.3"/>
<line x1="52.0" y1="299.2" x2="55.0" y2="299.2" stroke="#1c1c1c" stroke-width="1.0"/>
<text x="49.5" y="301.7" font-size="7.2" text-anchor="end" font-weight="normal" fill="#1a1a1a" textLength="28.42" lengthAdjust="spacingAndGlyphs" >125,000</text>
<line x1="52.0" y1="312.0" x2="55.0" y2="312.0" stroke="#1c1c1c" stroke-width="1.0"/>
<text x="49.5" y="314.5" font-size="7.2" text-anchor="end" font-weight="normal" fill="#1a1a1a" textLength="28.42" lengthAdjust="spacingAndGlyphs" >100,000</text>
<line x1="52.0" y1="324.7" x2="55.0" y2="324.7" stroke="#1c1c1c" stroke-width="1.0"/>
<text x="49.5" y="327.2" font-size="7.2" text-anchor="end" font-weight="normal" fill="#1a1a1a" textLength="24.05" lengthAdjust="spacingAndGlyphs" >75,000</text>
<line x1="52.0" y1="337.4" x2="55.0" y2="337.4" stroke="#1c1c1c" stroke-width="1.0"/>
<text x="49.5" y="339.9" font-size="7.2" text-anchor="end" font-weight="normal" fill="#1a1a1a" textLength="24.05" lengthAdjust="spacingAndGlyphs" >50,000</text>
<line x1="52.0" y1="350.2" x2="55.0" y2="350.2" stroke="#1c1c1c" stroke-width="1.0"/>
<text x="49.5" y="352.7" font-size="7.2" text-anchor="end" font-weight="normal" fill="#1a1a1a" textLength="24.05" lengthAdjust="spacingAndGlyphs" >25,000</text>
<line x1="52.0" y1="363.1" x2="55.0" y2="363.1" stroke="#1c1c1c" stroke-width="1.0"/>
<text x="49.5" y="365.6" font-size="7.2" text-anchor="end" font-weight="normal" fill="#1a1a1a" textLength="4.37" lengthAdjust="spacingAndGlyphs" >0</text>
<g class="yl" transform="translate(14.8,353.8) rotate(-90)" fill="#1a1a1a"><text x="0" y="0" font-size="10.2" textLength="4.6" lengthAdjust="spacingAndGlyphs">C</text><text x="4.6" y="2.0" font-size="7.0" textLength="11.2" lengthAdjust="spacingAndGlyphs">max,</text><text x="17.4" y="0" font-size="8.7" textLength="29.6" lengthAdjust="spacingAndGlyphs">copies/μg</text></g>
<path d="M149.70 285.00L151.25 283.45L152.80 285.00L151.25 286.55Z" fill="#f0c8d4" stroke="#bf2550" stroke-width="0.95"/>
<circle cx="151.25" cy="296.00" r="1.55" fill="#f4d4de" stroke="#cc4a70" stroke-width="0.9"/>
<path d="M149.15 305.95H153.35M149.15 307.85H153.35M151.25 305.95V307.85" stroke="#333" stroke-width="0.85" fill="none"/>
<text x="156.5" y="287.0" font-size="7.4" text-anchor="start" font-weight="normal" fill="#1a1a1a" textLength="17.0" lengthAdjust="spacingAndGlyphs" >Mean</text>
<text x="156.5" y="298.1" font-size="7.4" text-anchor="start" font-weight="normal" fill="#1a1a1a" textLength="78.2" lengthAdjust="spacingAndGlyphs" >Values outside 1.5 × IQR</text>
<text x="156.5" y="309.1" font-size="7.4" text-anchor="start" font-weight="normal" fill="#1a1a1a" textLength="72.1" lengthAdjust="spacingAndGlyphs" >1.5 × IQR from quartile</text>
<text x="156.5" y="317.8" font-size="7.4" text-anchor="start" font-weight="normal" fill="#1a1a1a" textLength="42.8" lengthAdjust="spacingAndGlyphs" >1 to quartile 3</text>
<line x1="111.4" y1="365.2" x2="111.4" y2="367.59999999999997" stroke="#1c1c1c" stroke-width="1.0"/>
<line x1="111.4" y1="343.5" x2="111.4" y2="351.6" stroke="#333" stroke-width="1.0"/>
<line x1="107.80000000000001" y1="343.5" x2="115.0" y2="343.5" stroke="#222" stroke-width="1.1"/>
<line x1="111.4" y1="361.4" x2="111.4" y2="363.3" stroke="#555" stroke-width="1.0"/>
<line x1="108.0" y1="363.5" x2="114.80000000000001" y2="363.5" stroke="#8a8a8a" stroke-width="1.6"/>
<rect x="105.10" y="352.00" width="13.50" height="9.00" fill="#dc9c8e" stroke="#e8ae9f" stroke-width="0.8"/>
<line x1="104.7" y1="359.3" x2="119.0" y2="359.3" stroke="#1e1212" stroke-width="1.5"/>
<circle cx="111.4" cy="354.7" r="1.2" fill="#c81f4b"/>
<circle cx="111.4" cy="306.2" r="1.15" fill="#e49aae" stroke="#b91c47" stroke-width="0.75" stroke-opacity="0.9"/>
<circle cx="111.4" cy="319.5" r="1.15" fill="#e49aae" stroke="#b91c47" stroke-width="0.75" stroke-opacity="0.9"/>
<circle cx="111.4" cy="327.4" r="1.15" fill="#e49aae" stroke="#b91c47" stroke-width="0.75" stroke-opacity="0.9"/>
<circle cx="111.4" cy="332.0" r="1.15" fill="#e49aae" stroke="#b91c47" stroke-width="0.75" stroke-opacity="0.9"/>
<circle cx="111.4" cy="334.2" r="1.15" fill="#e49aae" stroke="#b91c47" stroke-width="0.75" stroke-opacity="0.9"/>
<line x1="194.6" y1="365.2" x2="194.6" y2="367.59999999999997" stroke="#1c1c1c" stroke-width="1.0"/>
<line x1="194.6" y1="353.2" x2="194.6" y2="357.3" stroke="#333" stroke-width="1.0"/>
<line x1="191.0" y1="353.2" x2="198.2" y2="353.2" stroke="#222" stroke-width="1.1"/>
<line x1="194.6" y1="361.7" x2="194.6" y2="363.0" stroke="#555" stroke-width="1.0"/>
<line x1="191.2" y1="363.2" x2="198.0" y2="363.2" stroke="#8a8a8a" stroke-width="1.6"/>
<rect x="187.40" y="357.70" width="14.00" height="3.60" fill="#dc9c8e" stroke="#e8ae9f" stroke-width="0.8"/>
<line x1="187.0" y1="360.1" x2="201.8" y2="360.1" stroke="#1e1212" stroke-width="1.5"/>
<circle cx="194.6" cy="356.9" r="1.2" fill="#c81f4b"/>
<circle cx="194.6" cy="322.5" r="1.15" fill="#e49aae" stroke="#b91c47" stroke-width="0.75" stroke-opacity="0.9"/>
<circle cx="194.6" cy="332.4" r="1.15" fill="#e49aae" stroke="#b91c47" stroke-width="0.75" stroke-opacity="0.9"/>
<circle cx="194.6" cy="339.0" r="1.15" fill="#e49aae" stroke="#b91c47" stroke-width="0.75" stroke-opacity="0.9"/>
<circle cx="194.6" cy="340.8" r="1.15" fill="#e49aae" stroke="#b91c47" stroke-width="0.75" stroke-opacity="0.9"/>
<circle cx="194.6" cy="342.9" r="1.15" fill="#e49aae" stroke="#b91c47" stroke-width="0.75" stroke-opacity="0.9"/>
<circle cx="194.6" cy="348.1" r="1.15" fill="#e49aae" stroke="#b91c47" stroke-width="0.75" stroke-opacity="0.9"/>
<text x="90.8" y="378.0" font-size="7.9" text-anchor="start" font-weight="normal" fill="#1a1a1a" textLength="42.3" lengthAdjust="spacingAndGlyphs" >Refractory to</text>
<text x="85.0" y="387.2" font-size="7.9" text-anchor="start" font-weight="normal" fill="#1a1a1a" textLength="53.5" lengthAdjust="spacingAndGlyphs" >last line (n=54)*</text>
<text x="175.0" y="378.0" font-size="7.9" text-anchor="start" font-weight="normal" fill="#1a1a1a" textLength="39.3" lengthAdjust="spacingAndGlyphs" >Relapsed to</text>
<text x="167.0" y="387.2" font-size="7.9" text-anchor="start" font-weight="normal" fill="#1a1a1a" textLength="53.5" lengthAdjust="spacingAndGlyphs" >last line (n=47)*</text>
<text class="t" transform="translate(125.8,400.0) scale(0.6,1)" x="0" y="0" font-size="9.8" letter-spacing="0.295" fill="#111">Prior disease status</text>
<line x1="315.8" y1="298.1" x2="315.8" y2="365.70000000000005" stroke="#1c1c1c" stroke-width="1.15"/>
<line x1="315.2" y1="365.1" x2="506.0" y2="365.1" stroke="#1c1c1c" stroke-width="1.3"/>
<line x1="312.8" y1="299.1" x2="315.8" y2="299.1" stroke="#1c1c1c" stroke-width="1.0"/>
<text x="310.0" y="301.6" font-size="7.2" text-anchor="end" font-weight="normal" fill="#1a1a1a" textLength="28.42" lengthAdjust="spacingAndGlyphs" >125,000</text>
<line x1="312.8" y1="312.0" x2="315.8" y2="312.0" stroke="#1c1c1c" stroke-width="1.0"/>
<text x="310.0" y="314.5" font-size="7.2" text-anchor="end" font-weight="normal" fill="#1a1a1a" textLength="28.42" lengthAdjust="spacingAndGlyphs" >100,000</text>
<line x1="312.8" y1="324.9" x2="315.8" y2="324.9" stroke="#1c1c1c" stroke-width="1.0"/>
<text x="310.0" y="327.4" font-size="7.2" text-anchor="end" font-weight="normal" fill="#1a1a1a" textLength="24.05" lengthAdjust="spacingAndGlyphs" >75,000</text>
<line x1="312.8" y1="337.6" x2="315.8" y2="337.6" stroke="#1c1c1c" stroke-width="1.0"/>
<text x="310.0" y="340.1" font-size="7.2" text-anchor="end" font-weight="normal" fill="#1a1a1a" textLength="24.05" lengthAdjust="spacingAndGlyphs" >50,000</text>
<line x1="312.8" y1="350.4" x2="315.8" y2="350.4" stroke="#1c1c1c" stroke-width="1.0"/>
<text x="310.0" y="352.9" font-size="7.2" text-anchor="end" font-weight="normal" fill="#1a1a1a" textLength="24.05" lengthAdjust="spacingAndGlyphs" >25,000</text>
<line x1="312.8" y1="363.4" x2="315.8" y2="363.4" stroke="#1c1c1c" stroke-width="1.0"/>
<text x="310.0" y="365.9" font-size="7.2" text-anchor="end" font-weight="normal" fill="#1a1a1a" textLength="4.37" lengthAdjust="spacingAndGlyphs" >0</text>
<g class="yl" transform="translate(275.9,354.1) rotate(-90)" fill="#1a1a1a"><text x="0" y="0" font-size="10.2" textLength="4.6" lengthAdjust="spacingAndGlyphs">C</text><text x="4.6" y="2.0" font-size="7.0" textLength="11.2" lengthAdjust="spacingAndGlyphs">max,</text><text x="17.4" y="0" font-size="8.7" textLength="29.6" lengthAdjust="spacingAndGlyphs">copies/μg</text></g>
<path d="M320.15 298.50L321.70 296.95L323.25 298.50L321.70 300.05Z" fill="#f0c8d4" stroke="#bf2550" stroke-width="0.95"/>
<circle cx="321.7" cy="309.40" r="1.55" fill="#f4d4de" stroke="#cc4a70" stroke-width="0.9"/>
<path d="M319.60 319.25H323.80M319.60 321.15H323.80M321.70 319.25V321.15" stroke="#333" stroke-width="0.85" fill="none"/>
<text x="327.1" y="300.5" font-size="7.4" text-anchor="start" font-weight="normal" fill="#1a1a1a" textLength="17.0" lengthAdjust="spacingAndGlyphs" >Mean</text>
<text x="327.1" y="311.5" font-size="7.4" text-anchor="start" font-weight="normal" fill="#1a1a1a" textLength="78.2" lengthAdjust="spacingAndGlyphs" >Values outside 1.5 × IQR</text>
<text x="327.1" y="322.4" font-size="7.4" text-anchor="start" font-weight="normal" fill="#1a1a1a" textLength="72.1" lengthAdjust="spacingAndGlyphs" >1.5 × IQR from quartile</text>
<text x="327.1" y="331.2" font-size="7.4" text-anchor="start" font-weight="normal" fill="#1a1a1a" textLength="42.8" lengthAdjust="spacingAndGlyphs" >1 to quartile 3</text>
<line x1="370.6" y1="365.1" x2="370.6" y2="367.5" stroke="#1c1c1c" stroke-width="1.0"/>
<line x1="370.6" y1="350.9" x2="370.6" y2="357.2" stroke="#333" stroke-width="1.0"/>
<line x1="367.0" y1="350.9" x2="374.20000000000005" y2="350.9" stroke="#222" stroke-width="1.1"/>
<line x1="370.6" y1="362.5" x2="370.6" y2="363.4" stroke="#555" stroke-width="1.0"/>
<line x1="367.20000000000005" y1="363.59999999999997" x2="374.0" y2="363.59999999999997" stroke="#8a8a8a" stroke-width="1.6"/>
<rect x="364.30" y="357.60" width="13.30" height="4.50" fill="#dc9c8e" stroke="#e8ae9f" stroke-width="0.8"/>
<line x1="363.9" y1="359.8" x2="378.0" y2="359.8" stroke="#1e1212" stroke-width="1.5"/>
<circle cx="370.6" cy="358.8" r="1.2" fill="#c81f4b"/>
<circle cx="370.6" cy="347.7" r="1.15" fill="#e49aae" stroke="#b91c47" stroke-width="0.75" stroke-opacity="0.9"/>
<line x1="450.7" y1="365.1" x2="450.7" y2="367.5" stroke="#1c1c1c" stroke-width="1.0"/>
<line x1="450.7" y1="341.2" x2="450.7" y2="353.5" stroke="#333" stroke-width="1.0"/>
<line x1="447.09999999999997" y1="341.2" x2="454.3" y2="341.2" stroke="#222" stroke-width="1.1"/>
<line x1="450.7" y1="361.4" x2="450.7" y2="363.1" stroke="#555" stroke-width="1.0"/>
<line x1="447.3" y1="363.3" x2="454.09999999999997" y2="363.3" stroke="#8a8a8a" stroke-width="1.6"/>
<rect x="444.10" y="353.90" width="13.20" height="7.10" fill="#dc9c8e" stroke="#e8ae9f" stroke-width="0.8"/>
<line x1="443.7" y1="359.8" x2="457.7" y2="359.8" stroke="#1e1212" stroke-width="1.5"/>
<circle cx="450.7" cy="354.9" r="1.2" fill="#c81f4b"/>
<circle cx="450.7" cy="306.2" r="1.15" fill="#e49aae" stroke="#b91c47" stroke-width="0.75" stroke-opacity="0.9"/>
<circle cx="450.7" cy="319.9" r="1.15" fill="#e49aae" stroke="#b91c47" stroke-width="0.75" stroke-opacity="0.9"/>
<circle cx="450.7" cy="322.7" r="1.15" fill="#e49aae" stroke="#b91c47" stroke-width="0.75" stroke-opacity="0.9"/>
<circle cx="450.7" cy="327.4" r="1.15" fill="#e49aae" stroke="#b91c47" stroke-width="0.75" stroke-opacity="0.9"/>
<circle cx="450.7" cy="332.1" r="1.15" fill="#e49aae" stroke="#b91c47" stroke-width="0.75" stroke-opacity="0.9"/>
<circle cx="450.7" cy="333.5" r="1.15" fill="#e49aae" stroke="#b91c47" stroke-width="0.75" stroke-opacity="0.9"/>
<circle cx="450.7" cy="338.8" r="1.15" fill="#e49aae" stroke="#b91c47" stroke-width="0.75" stroke-opacity="0.9"/>
<text x="341.3" y="378.0" font-size="8.4" text-anchor="start" font-weight="normal" fill="#1a1a1a" textLength="59.1" lengthAdjust="spacingAndGlyphs" >Stage I/II (n=23)*</text>
<text x="417.5" y="378.0" font-size="8.4" text-anchor="start" font-weight="normal" fill="#1a1a1a" textLength="66.0" lengthAdjust="spacingAndGlyphs" >Stage III/IV (n=78)*</text>
<text class="t" transform="translate(370.6,390.8) scale(0.6,1)" x="0" y="0" font-size="9.8" letter-spacing="0.396" fill="#111">Disease stage at study entry</text>
<line x1="55.0" y1="432.8" x2="55.0" y2="502.0" stroke="#1c1c1c" stroke-width="1.15"/>
<line x1="54.4" y1="501.4" x2="251.7" y2="501.4" stroke="#1c1c1c" stroke-width="1.3"/>
<line x1="52.0" y1="435.3" x2="55.0" y2="435.3" stroke="#1c1c1c" stroke-width="1.0"/>
<text x="49.5" y="437.8" font-size="7.2" text-anchor="end" font-weight="normal" fill="#1a1a1a" textLength="28.42" lengthAdjust="spacingAndGlyphs" >125,000</text>
<line x1="52.0" y1="448.2" x2="55.0" y2="448.2" stroke="#1c1c1c" stroke-width="1.0"/>
<text x="49.5" y="450.7" font-size="7.2" text-anchor="end" font-weight="normal" fill="#1a1a1a" textLength="28.42" lengthAdjust="spacingAndGlyphs" >100,000</text>
<line x1="52.0" y1="460.9" x2="55.0" y2="460.9" stroke="#1c1c1c" stroke-width="1.0"/>
<text x="49.5" y="463.4" font-size="7.2" text-anchor="end" font-weight="normal" fill="#1a1a1a" textLength="24.05" lengthAdjust="spacingAndGlyphs" >75,000</text>
<line x1="52.0" y1="473.4" x2="55.0" y2="473.4" stroke="#1c1c1c" stroke-width="1.0"/>
<text x="49.5" y="475.9" font-size="7.2" text-anchor="end" font-weight="normal" fill="#1a1a1a" textLength="24.05" lengthAdjust="spacingAndGlyphs" >50,000</text>
<line x1="52.0" y1="486.2" x2="55.0" y2="486.2" stroke="#1c1c1c" stroke-width="1.0"/>
<text x="49.5" y="488.7" font-size="7.2" text-anchor="end" font-weight="normal" fill="#1a1a1a" textLength="24.05" lengthAdjust="spacingAndGlyphs" >25,000</text>
<line x1="52.0" y1="499.1" x2="55.0" y2="499.1" stroke="#1c1c1c" stroke-width="1.0"/>
<text x="49.5" y="501.6" font-size="7.2" text-anchor="end" font-weight="normal" fill="#1a1a1a" textLength="4.37" lengthAdjust="spacingAndGlyphs" >0</text>
<g class="yl" transform="translate(15.1,490.4) rotate(-90)" fill="#1a1a1a"><text x="0" y="0" font-size="10.2" textLength="4.6" lengthAdjust="spacingAndGlyphs">C</text><text x="4.6" y="2.0" font-size="7.0" textLength="11.2" lengthAdjust="spacingAndGlyphs">max,</text><text x="17.4" y="0" font-size="8.7" textLength="29.6" lengthAdjust="spacingAndGlyphs">copies/μg</text></g>
<path d="M58.75 431.20L60.30 429.65L61.85 431.20L60.30 432.75Z" fill="#f0c8d4" stroke="#bf2550" stroke-width="0.95"/>
<circle cx="60.3" cy="442.00" r="1.55" fill="#f4d4de" stroke="#cc4a70" stroke-width="0.9"/>
<path d="M58.20 452.05H62.40M58.20 453.95H62.40M60.30 452.05V453.95" stroke="#333" stroke-width="0.85" fill="none"/>
<text x="65.6" y="433.2" font-size="7.4" text-anchor="start" font-weight="normal" fill="#1a1a1a" textLength="17.0" lengthAdjust="spacingAndGlyphs" >Mean</text>
<text x="65.6" y="444.1" font-size="7.4" text-anchor="start" font-weight="normal" fill="#1a1a1a" textLength="78.2" lengthAdjust="spacingAndGlyphs" >Values outside 1.5 × IQR</text>
<text x="65.6" y="455.2" font-size="7.4" text-anchor="start" font-weight="normal" fill="#1a1a1a" textLength="72.1" lengthAdjust="spacingAndGlyphs" >1.5 × IQR from quartile</text>
<text x="65.6" y="463.9" font-size="7.4" text-anchor="start" font-weight="normal" fill="#1a1a1a" textLength="42.8" lengthAdjust="spacingAndGlyphs" >1 to quartile 3</text>
<line x1="111.7" y1="501.4" x2="111.7" y2="503.79999999999995" stroke="#1c1c1c" stroke-width="1.0"/>
<line x1="111.7" y1="468.4" x2="111.7" y2="485.0" stroke="#333" stroke-width="1.0"/>
<line x1="108.10000000000001" y1="468.4" x2="115.3" y2="468.4" stroke="#222" stroke-width="1.1"/>
<line x1="111.7" y1="497.9" x2="111.7" y2="499.1" stroke="#555" stroke-width="1.0"/>
<line x1="108.3" y1="499.3" x2="115.10000000000001" y2="499.3" stroke="#8a8a8a" stroke-width="1.6"/>
<rect x="104.90" y="485.40" width="13.50" height="12.10" fill="#dc9c8e" stroke="#e8ae9f" stroke-width="0.8"/>
<line x1="104.5" y1="492.7" x2="118.8" y2="492.7" stroke="#1e1212" stroke-width="1.5"/>
<circle cx="111.7" cy="489.9" r="1.2" fill="#c81f4b"/>
<line x1="194.6" y1="501.4" x2="194.6" y2="503.79999999999995" stroke="#1c1c1c" stroke-width="1.0"/>
<line x1="194.6" y1="484.0" x2="194.6" y2="491.2" stroke="#333" stroke-width="1.0"/>
<line x1="191.0" y1="484.0" x2="198.2" y2="484.0" stroke="#222" stroke-width="1.1"/>
<line x1="194.6" y1="497.9" x2="194.6" y2="499.1" stroke="#555" stroke-width="1.0"/>
<line x1="191.2" y1="499.3" x2="198.0" y2="499.3" stroke="#8a8a8a" stroke-width="1.6"/>
<rect x="188.00" y="491.60" width="13.70" height="5.90" fill="#dc9c8e" stroke="#e8ae9f" stroke-width="0.8"/>
<line x1="187.6" y1="496.1" x2="202.1" y2="496.1" stroke="#1e1212" stroke-width="1.5"/>
<circle cx="194.6" cy="492.4" r="1.2" fill="#c81f4b"/>
<circle cx="194.6" cy="442.4" r="1.15" fill="#e49aae" stroke="#b91c47" stroke-width="0.75" stroke-opacity="0.9"/>
<circle cx="194.6" cy="455.7" r="1.15" fill="#e49aae" stroke="#b91c47" stroke-width="0.75" stroke-opacity="0.9"/>
<circle cx="194.6" cy="457.6" r="1.15" fill="#e49aae" stroke="#b91c47" stroke-width="0.75" stroke-opacity="0.9"/>
<circle cx="194.6" cy="463.6" r="1.15" fill="#e49aae" stroke="#b91c47" stroke-width="0.75" stroke-opacity="0.9"/>
<circle cx="194.6" cy="469.1" r="1.15" fill="#e49aae" stroke="#b91c47" stroke-width="0.75" stroke-opacity="0.9"/>
<circle cx="194.6" cy="470.3" r="1.15" fill="#e49aae" stroke="#b91c47" stroke-width="0.75" stroke-opacity="0.9"/>
<circle cx="194.6" cy="474.5" r="1.15" fill="#e49aae" stroke="#b91c47" stroke-width="0.75" stroke-opacity="0.9"/>
<circle cx="194.6" cy="476.3" r="1.15" fill="#e49aae" stroke="#b91c47" stroke-width="0.75" stroke-opacity="0.9"/>
<circle cx="194.6" cy="478.0" r="1.15" fill="#e49aae" stroke="#b91c47" stroke-width="0.75" stroke-opacity="0.9"/>
<circle cx="194.6" cy="479.3" r="1.15" fill="#e49aae" stroke="#b91c47" stroke-width="0.75" stroke-opacity="0.9"/>
<circle cx="194.6" cy="480.4" r="1.15" fill="#e49aae" stroke="#b91c47" stroke-width="0.75" stroke-opacity="0.9"/>
<text x="94.3" y="514.0" font-size="7.9" text-anchor="start" font-weight="normal" fill="#1a1a1a" textLength="34.6" lengthAdjust="spacingAndGlyphs" >Yes (<tspan font-style="italic">n</tspan>=8)*</text>
<text x="175.8" y="514.0" font-size="7.9" text-anchor="start" font-weight="normal" fill="#1a1a1a" textLength="37.5" lengthAdjust="spacingAndGlyphs" >No (<tspan font-style="italic">n</tspan>=93)*</text>
<text class="t" transform="translate(124.3,527.0) scale(0.6,1)" x="0" y="0" font-size="9.8" letter-spacing="0.351" fill="#111">Bulky disease status</text>
</svg></body></html>
